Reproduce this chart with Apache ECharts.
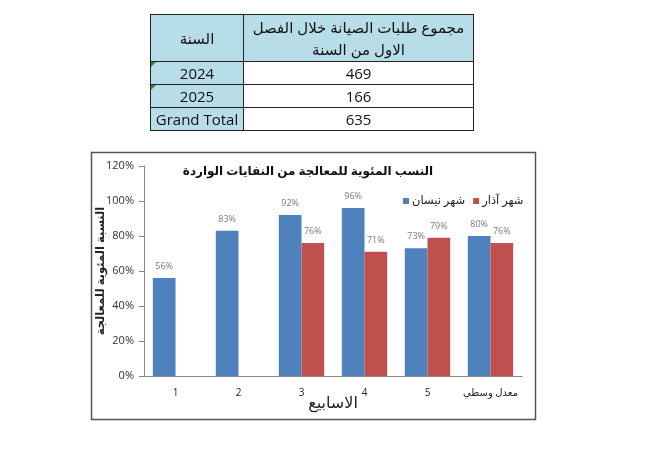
<!DOCTYPE html>
<html><head><meta charset="utf-8">
<script src="https://cdn.jsdelivr.net/npm/echarts@6/dist/echarts.min.js"></script>
<style>
html,body{margin:0;padding:0;background:#fff;}
#wrap{position:relative;width:672px;height:456px;}
#chart{position:absolute;left:0;top:0;width:672px;height:456px;}
table{position:absolute;left:150px;top:14px;border-collapse:collapse;font-family:"Open Sans","DejaVu Sans",sans-serif;font-size:15px;color:#111;z-index:2;}
td{border:1px solid #222;text-align:center;padding:0;position:relative;}
td.h{background:#b7dde8;}
td.tri::before{content:"";position:absolute;left:0;top:0;border-top:5px solid #2e8b2e;border-right:5px solid transparent;}
</style></head>
<body><div id="wrap"><div id="chart"></div>
<table id="tbl"></table></div>
<script>
var tableHeader = ["السنة", "مجموع طلبات الصيانة خلال الفصل<br>الاول من السنة"];
var tableYears = ["2024", "2025", "Grand Total"];
var tableValues = [469, 166, 635];

var categories = ["1", "2", "3", "4", "5", "معدل وسطي"];
var aprilName = "شهر نيسان";
var marchName = "شهر آذار";
var aprilValues = [56, 83, 92, 96, 73, 80];
var marchValues = [null, null, 76, 71, 79, 76];
var yTicks = [0, 20, 40, 60, 80, 100, 120];
var chartTitle = "النسب المئوية للمعالجة من النفايات الواردة";
var yName = "النسبة المئوية للمعالجة";
var xName = "الاسابيع";

var tbl = document.getElementById('tbl');
var html = '<tr style="height:47px"><td class="h" style="width:92px">' + tableHeader[0] + '</td><td class="h" style="width:229px;line-height:22px">' + tableHeader[1] + '</td></tr>';
for (var i = 0; i < tableYears.length; i++) {
  html += '<tr style="height:23px"><td class="h' + (i < 2 ? ' tri' : '') + '">' + tableYears[i] + '</td><td>' + tableValues[i] + '</td></tr>';
}
tbl.innerHTML = html;

var font = '"Open Sans","DejaVu Sans",sans-serif';
var chart = echarts.init(document.getElementById('chart'), null, {renderer: 'canvas'});
chart.setOption({
  animation: false,
  textStyle: {fontFamily: font},
  title: {text: chartTitle, left: 303, top: 161, textAlign: 'center',
    textStyle: {fontSize: 12, fontWeight: 'bold', color: '#111', fontFamily: font}},
  legend: {left: 398, top: 190, itemWidth: 6, itemHeight: 6, itemGap: 8, icon: 'rect',
    textStyle: {fontSize: 11.5, color: '#222', fontFamily: font, padding: [0,0,0,-2]},
    data: [aprilName, marchName]},
  graphic: [{type: 'rect', shape: {x: 91.5, y: 152.5, width: 444, height: 267},
    style: {fill: 'none', stroke: '#555', lineWidth: 1.5}, silent: true}],
  grid: {left: 144, right: 150, top: 166, bottom: 80},
  xAxis: {type: 'category', data: categories,
    name: xName, nameLocation: 'middle', nameGap: 19, nameMoveOverlap: false,
    nameTextStyle: {fontSize: 16, color: '#222', fontFamily: font},
    axisLine: {lineStyle: {color: '#868686'}}, axisTick: {show: false},
    axisLabel: {fontSize: 10, color: '#222', margin: 12, interval: 0}},
  yAxis: {type: 'value', min: 0, max: 120, interval: 20,
    name: yName, nameLocation: 'middle', nameGap: 37, nameRotate: 90, nameMoveOverlap: false,
    nameTextStyle: {fontSize: 11.5, fontWeight: 'bold', color: '#222', fontFamily: font},
    axisLine: {show: true, lineStyle: {color: '#868686'}},
    axisTick: {show: true, length: 5, lineStyle: {color: '#868686'}},
    splitLine: {show: false},
    axisLabel: {formatter: '{value}%', fontSize: 11, color: '#333', margin: 10}},
  series: [
    {name: aprilName, type: 'bar', data: aprilValues, barGap: '0%', barCategoryGap: '28%',
      itemStyle: {color: '#4f81bd'},
      label: {show: true, position: 'top', distance: 7, formatter: '{c}%', fontSize: 9, color: '#7a7a7a'}},
    {name: marchName, type: 'bar', data: marchValues,
      itemStyle: {color: '#c0504d'},
      label: {show: true, position: 'top', distance: 7, formatter: '{c}%', fontSize: 9, color: '#7a7a7a'}}
  ]
});
</script></body></html>
